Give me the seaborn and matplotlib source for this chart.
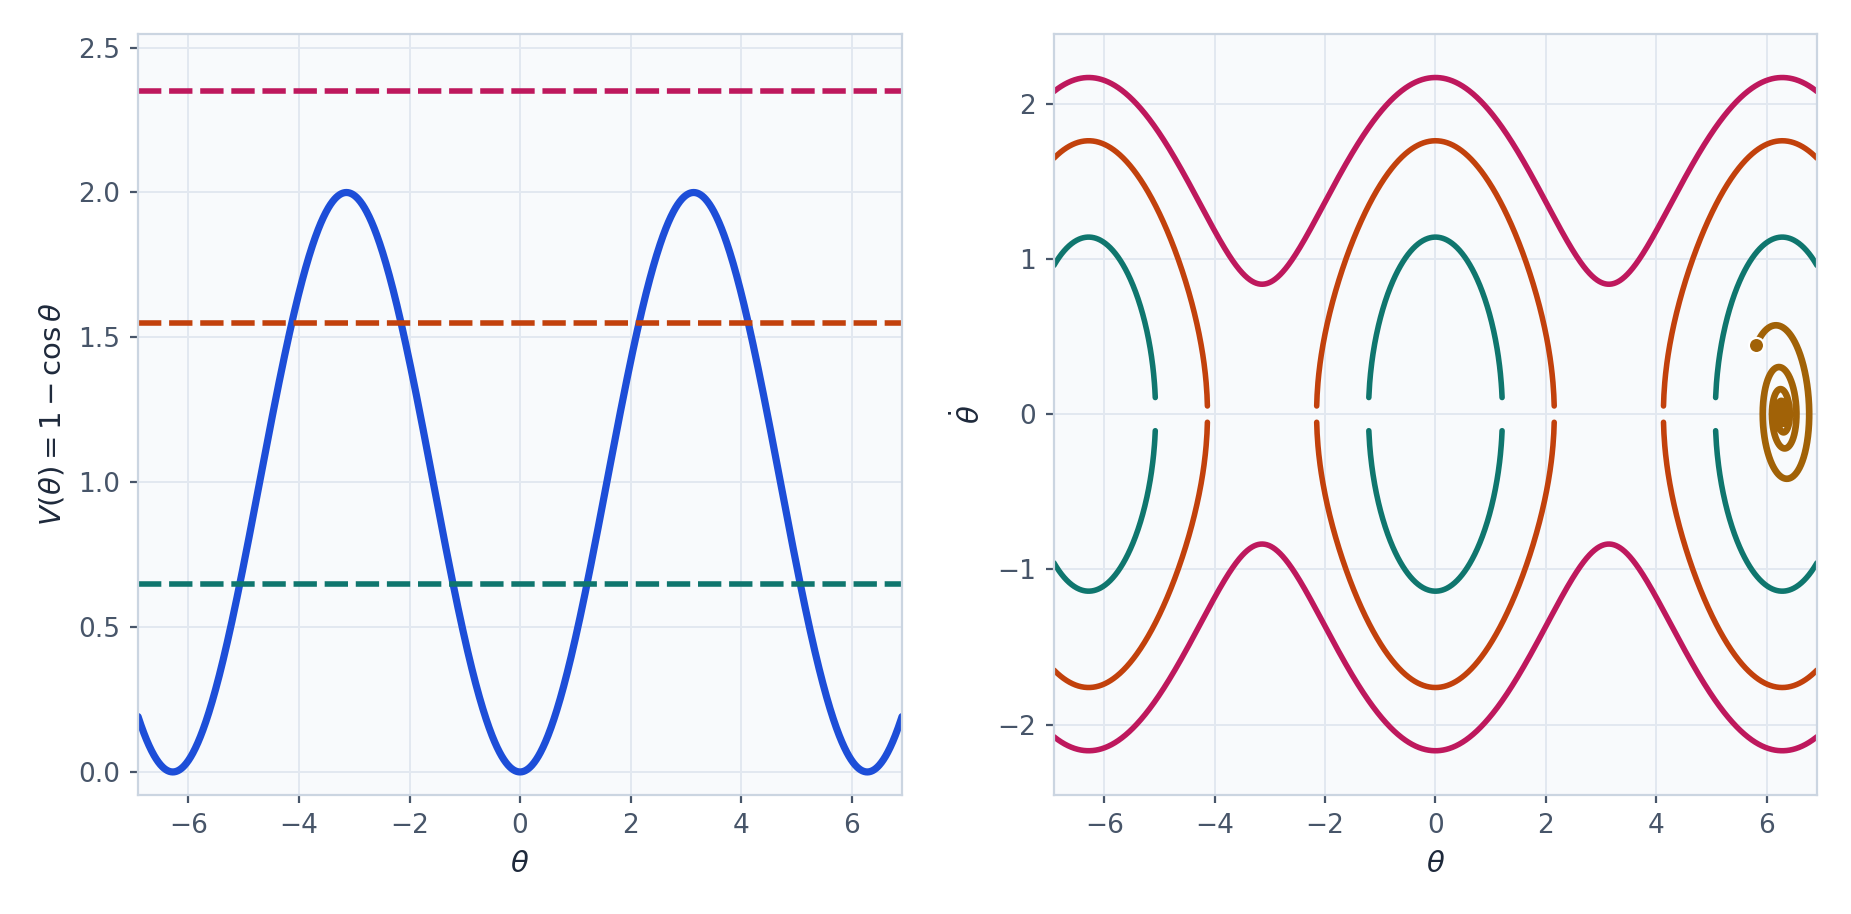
import numpy as np
import pandas as pd
import seaborn as sns
import matplotlib.pyplot as plt

# Plot styling
TS = 9.5      # tick label size
LBF = 10.5    # axis label size
TICK_C = '#475569'
LABEL_C = '#1e293b'
SPINE_C = '#cbd5e1'
GRID_C = '#e2e8f0'
FACE_C = '#f8fafc'

# ---- chart values ----
energies = [0.65, 1.55, 2.35]                   # energy levels (dashed lines / orbits)
level_names = ['E=0.65', 'E=1.55', 'E=2.35']
level_colors = ['#0f766e', '#c2410c', '#be185d']
potential_color = '#1d4ed8'
spiral_color = '#a16207'

theta_max = 2.2 * np.pi      # x range is +/- 2.2 pi
n_pts = 1816                 # sampling of theta (sets the small gaps at turning points)
left_ylim = (-0.078, 2.548)
right_ylim = (-2.45, 2.45)

# damped trajectory: start point and damping
theta_start = 5.81
omega_start = 0.444
damping = 0.2
t_end = 60.0
dt = 0.01

theta = np.linspace(-theta_max, theta_max, n_pts)
V = 1 - np.cos(theta)
pot = pd.DataFrame({'theta': theta, 'V': V})

# constant energy orbits, split into contiguous pieces
rows = []
seg = 0
for E, name in zip(energies, level_names):
    ok = (E - V) >= 0
    w = np.sqrt(2 * np.clip(E - V, 0, None))
    for sign in (1, -1):
        idx = np.where(ok)[0]
        runs = np.split(idx, np.where(np.diff(idx) > 1)[0] + 1)
        for r in runs:
            if len(r) < 2:
                continue
            for i in r:
                rows.append((theta[i], sign * w[i], name, seg))
            seg += 1
phase = pd.DataFrame(rows, columns=['theta', 'thetadot', 'level', 'seg'])


# damped pendulum (RK4)
def rhs(s):
    return np.array([s[1], -np.sin(s[0]) - damping * s[1]])


s = np.array([theta_start, omega_start])
traj = [s.copy()]
for _ in range(int(t_end / dt)):
    k1 = rhs(s)
    k2 = rhs(s + 0.5 * dt * k1)
    k3 = rhs(s + 0.5 * dt * k2)
    k4 = rhs(s + dt * k3)
    s = s + dt / 6 * (k1 + 2 * k2 + 2 * k3 + k4)
    traj.append(s.copy())
traj = np.array(traj)
spiral = pd.DataFrame({'theta': traj[:, 0], 'thetadot': traj[:, 1]})

# ==============================================================================
sns.set_style('white')
plt.rcParams['font.family'] = ['DejaVu Sans']
plt.rcParams['mathtext.fontset'] = 'dejavusans'

fig = plt.figure(figsize=(9.255, 4.57), dpi=200)
ax1 = fig.add_axes([0.0746, 0.1307, 0.4127, 0.8324])
ax2 = fig.add_axes([0.5694, 0.1307, 0.4122, 0.8324])

# left: potential
sns.lineplot(data=pot, x='theta', y='V', color=potential_color, lw=2.6, ax=ax1)
for E, c in zip(energies, level_colors):
    ax1.axhline(E, color=c, lw=2.0, ls='--', dashes=(4.2, 1.4))
ax1.set_ylim(*left_ylim)
ax1.set_yticks([0, 0.5, 1.0, 1.5, 2.0, 2.5])
ax1.set_ylabel(r'$V(\theta) = 1 - \cos\theta$', fontsize=LBF, color=LABEL_C)

# right: phase portrait
sns.lineplot(data=phase, x='theta', y='thetadot', hue='level', hue_order=level_names,
             units='seg', estimator=None, sort=False, palette=level_colors,
             lw=2.0, legend=False, ax=ax2)
sns.lineplot(data=spiral, x='theta', y='thetadot', sort=False, estimator=None,
             color=spiral_color, lw=2.4, ax=ax2)
ax2.scatter([theta_start], [omega_start], s=30, color=spiral_color,
            edgecolor='white', linewidth=0.8, zorder=5)
ax2.set_ylim(*right_ylim)
ax2.set_yticks([-2, -1, 0, 1, 2])
ax2.set_ylabel(r'$\dot{\theta}$', fontsize=LBF, color=LABEL_C)

for ax in (ax1, ax2):
    ax.set_xlim(-theta_max, theta_max)
    ax.set_xticks([-6, -4, -2, 0, 2, 4, 6])
    ax.set_xlabel(r'$\theta$', fontsize=LBF, color=LABEL_C)
    ax.set_facecolor(FACE_C)
    ax.grid(True, color=GRID_C, lw=0.7)
    ax.set_axisbelow(True)
    for sp in ax.spines.values():
        sp.set_color(SPINE_C)
        sp.set_linewidth(0.8)
    ax.tick_params(which='both', labelsize=TS, colors=TICK_C, length=3,
                   width=0.8, left=True, bottom=True)

plt.savefig('out.png', dpi=200)
